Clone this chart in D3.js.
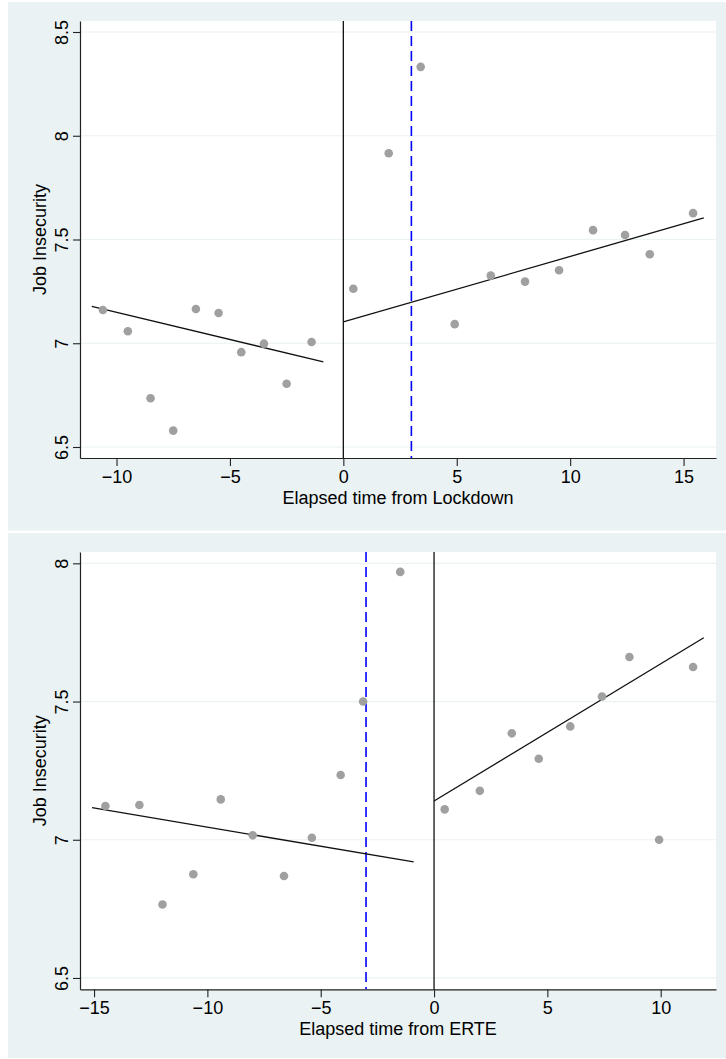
<!DOCTYPE html>
<html>
<head>
<meta charset="utf-8">
<script src="https://cdn.jsdelivr.net/npm/d3@7"></script>
<style>
  body { margin: 0; background: #fff; }
  text { font-family: "Liberation Sans", Arial, sans-serif; fill: #000; }
</style>
</head>
<body>
<script>
// ---- data ----
// top panel: elapsed time from Lockdown
var lockPreX  = [-10.6, -9.5, -8.5, -7.5, -6.5, -5.5, -4.5, -3.5, -2.5, -1.4];
var lockPreY  = [7.16, 7.058, 6.735, 6.579, 7.165, 7.146, 6.957, 6.998, 6.805, 7.006];
var lockPostX = [0.44, 2.0, 3.41, 4.91, 6.5, 8.01, 9.51, 11.01, 12.42, 13.51, 15.42];
var lockPostY = [7.263, 7.916, 8.332, 7.092, 7.326, 7.297, 7.352, 7.545, 7.522, 7.429, 7.627];
var lockFitPre  = [[-11.09, 7.178], [-0.88, 6.910]];
var lockFitPost = [[0, 7.103], [15.89, 7.604]];
var lockXTicks = [-10, -5, 0, 5, 10, 15];
var lockYTicks = [6.5, 7, 7.5, 8, 8.5];

// bottom panel: elapsed time from ERTE
var ertePreX  = [-14.5, -13.0, -11.98, -10.62, -9.41, -8.0, -6.62, -5.39, -4.12, -3.13, -1.49];
var ertePreY  = [7.122, 7.126, 6.766, 6.875, 7.146, 7.016, 6.869, 7.007, 7.234, 7.5, 7.969];
var ertePostX = [0.47, 2.02, 3.43, 4.62, 6.01, 7.41, 8.62, 9.93, 11.43];
var ertePostY = [7.11, 7.177, 7.385, 7.293, 7.41, 7.518, 7.661, 7.0, 7.625];
var erteFitPre  = [[-15.09, 7.116], [-0.90, 6.920]];
var erteFitPost = [[0, 7.140], [11.90, 7.731]];
var erteXTicks = [-15, -10, -5, 0, 5, 10];
var erteYTicks = [6.5, 7, 7.5, 8];

var W = 726, H = 1059;
var bgColor = "rgb(234,242,243)";

var svg = d3.select("body").append("svg")
    .attr("width", W)
    .attr("height", H);

function zip(xs, ys) {
  return xs.map(function(x, i) { return [x, ys[i]]; });
}

function drawPanel(p) {
  // graph region background
  svg.append("rect")
    .attr("x", 8).attr("y", p.bgTop)
    .attr("width", W - 8).attr("height", p.bgBottom - p.bgTop)
    .attr("fill", bgColor);

  var left = 80, right = 716, top = p.top, bottom = p.bottom;

  svg.append("rect")
    .attr("x", left).attr("y", top)
    .attr("width", right - left).attr("height", bottom - top)
    .attr("fill", "#fff");

  var x = d3.scaleLinear().domain(p.xDomain).range([left, right]);
  var y = d3.scaleLinear().domain(p.yDomain).range([bottom, top]);

  // gridlines
  svg.append("g").selectAll("line")
    .data(p.yTicks)
    .enter().append("line")
    .attr("x1", left).attr("x2", right)
    .attr("y1", function(d) { return y(d); })
    .attr("y2", function(d) { return y(d); })
    .attr("stroke", bgColor)
    .attr("stroke-width", 1.2);

  // x axis
  var gx = svg.append("g")
    .attr("transform", "translate(0," + bottom + ")")
    .call(d3.axisBottom(x).tickValues(p.xTicks).tickSize(8).tickPadding(4).tickSizeOuter(0));
  gx.select(".domain").attr("stroke", "#222").attr("stroke-width", 1.2);
  gx.selectAll(".tick line").attr("stroke", "#222").attr("stroke-width", 1.1);
  gx.selectAll(".tick text")
    .style("font-size", "18px")
    .style("font-family", "Liberation Sans, Arial, sans-serif")
    .attr("fill", "#000");

  // y axis, labels rotated
  var gy = svg.append("g")
    .attr("transform", "translate(" + left + ",0)")
    .call(d3.axisLeft(y).tickValues(p.yTicks).tickSize(7).tickSizeOuter(0).tickFormat(d3.format("")));
  gy.select(".domain").attr("stroke", "#222").attr("stroke-width", 1.2);
  gy.selectAll(".tick line").attr("stroke", "#222").attr("stroke-width", 1.1);
  gy.selectAll(".tick text")
    .attr("x", null).attr("dy", null)
    .attr("transform", "translate(-12,0) rotate(-90)")
    .attr("text-anchor", "middle")
    .attr("y", 0)
    .style("font-size", "18px")
    .style("font-family", "Liberation Sans, Arial, sans-serif")
    .attr("fill", "#000");

  // vertical reference lines
  svg.append("line")
    .attr("x1", x(0)).attr("x2", x(0))
    .attr("y1", top).attr("y2", bottom)
    .attr("stroke", "#111").attr("stroke-width", 1.3);

  svg.append("line")
    .attr("x1", x(p.dashX)).attr("x2", x(p.dashX))
    .attr("y1", top).attr("y2", bottom)
    .attr("stroke", "#0000ff").attr("stroke-width", 1.6)
    .attr("stroke-dasharray", "10,5");

  // fitted lines
  var line = d3.line()
    .x(function(d) { return x(d[0]); })
    .y(function(d) { return y(d[1]); });
  [p.fitPre, p.fitPost].forEach(function(f) {
    svg.append("path")
      .attr("d", line(f))
      .attr("fill", "none")
      .attr("stroke", "#111")
      .attr("stroke-width", 1.3);
  });

  // points
  svg.append("g").selectAll("circle")
    .data(zip(p.preX, p.preY).concat(zip(p.postX, p.postY)))
    .enter().append("circle")
    .attr("cx", function(d) { return x(d[0]); })
    .attr("cy", function(d) { return y(d[1]); })
    .attr("r", 4.3)
    .attr("fill", "#a0a0a0");

  // axis titles
  svg.append("text")
    .attr("x", (left + right) / 2)
    .attr("y", bottom + 46)
    .attr("text-anchor", "middle")
    .style("font-size", "18px")
    .text(p.xTitle);

  svg.append("text")
    .attr("transform", "translate(46," + ((top + bottom) / 2) + ") rotate(-90)")
    .attr("text-anchor", "middle")
    .style("font-size", "18px")
    .text("Job Insecurity");
}

drawPanel({
  bgTop: 2, bgBottom: 530.5, top: 21, bottom: 458,
  xDomain: [-11.61, 16.43], yDomain: [6.447, 8.553],
  xTicks: lockXTicks, yTicks: lockYTicks,
  preX: lockPreX, preY: lockPreY, postX: lockPostX, postY: lockPostY,
  fitPre: lockFitPre, fitPost: lockFitPost,
  dashX: 3, xTitle: "Elapsed time from Lockdown"
});

drawPanel({
  bgTop: 533, bgBottom: 1058, top: 552, bottom: 989.3,
  xDomain: [-15.62, 12.44], yDomain: [6.459, 8.041],
  xTicks: erteXTicks, yTicks: erteYTicks,
  preX: ertePreX, preY: ertePreY, postX: ertePostX, postY: ertePostY,
  fitPre: erteFitPre, fitPost: erteFitPost,
  dashX: -3, xTitle: "Elapsed time from ERTE"
});
</script>
</body>
</html>
